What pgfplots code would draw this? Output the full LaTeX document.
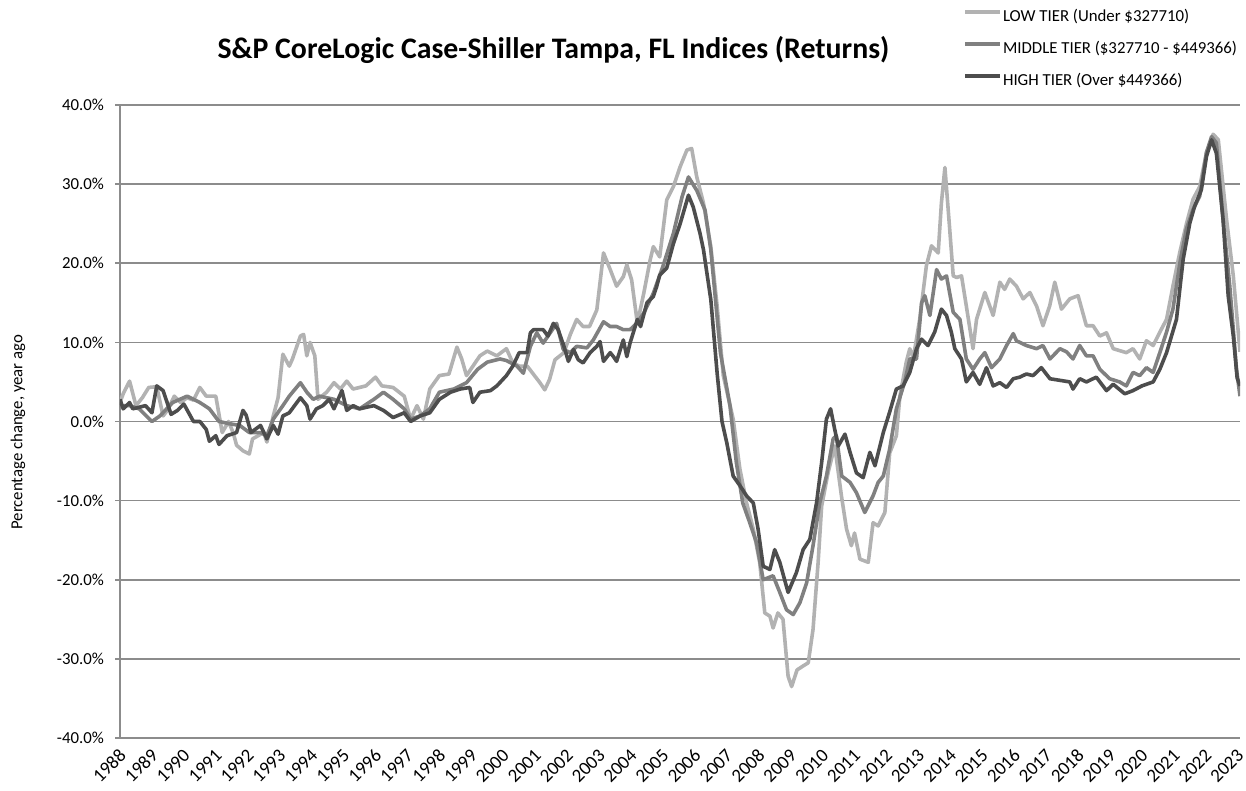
\documentclass[border=0pt]{standalone}
\usepackage{pgfplots}
\pgfplotsset{compat=1.18}
\usepackage{fontspec}
\setmainfont{Carlito}
\definecolor{lowc}{RGB}{178,178,178}
\definecolor{midc}{RGB}{128,128,128}
\definecolor{highc}{RGB}{77,77,77}
\definecolor{gridc}{RGB}{140,140,140}
\begin{document}
\begin{tikzpicture}
\begin{axis}[
  name=ax,
  scale only axis,
  width=560pt, height=316.5pt,
  xmin=1988, xmax=2023.07,
  ymin=-40, ymax=40,
  axis x line=bottom, axis y line=left,
  axis line style={-, draw=gridc, line width=0.8pt},
  ymajorgrids, grid style={draw=gridc, line width=0.8pt},
  ytick={-40,-30,...,40},
  yticklabels={-40.0\%,-30.0\%,-20.0\%,-10.0\%,0.0\%,10.0\%,20.0\%,30.0\%,40.0\%},
  xtick={1988,1989,...,2023},
  xticklabels={1988,1989,1990,1991,1992,1993,1994,1995,1996,1997,1998,1999,2000,2001,2002,2003,2004,2005,2006,2007,2008,2009,2010,2011,2012,2013,2014,2015,2016,2017,2018,2019,2020,2021,2022,2023},
  tick align=outside,
  ytick style={draw=gridc, line width=0.8pt},
  xtick style={draw=none},
  major tick length=2.5pt,
  yticklabel style={xshift=-2pt, font=\fontsize{8.4}{10}\selectfont},
  xticklabel style={xshift=1.5pt, yshift=-4.5pt, rotate=45, anchor=east, inner sep=0pt, font=\fontsize{9.4}{11}\selectfont},
  ylabel={Percentage change, year ago},
  ylabel style={at={(axis description cs:-0.0911,0.483)}, anchor=center, font=\fontsize{8.4}{10}\selectfont},
  title={\bfseries S\&P CoreLogic Case-Shiller Tampa, FL Indices (Returns)},
  title style={at={(axis description cs:0.387,1)}, anchor=center, yshift=21.5pt, font=\fontsize{14.9}{17}\selectfont},
  legend style={draw=none, fill=none, at={(axis description cs:0.7527,1)}, anchor=north west, yshift=47.75pt,
    font=\fontsize{8.4}{10}\selectfont, row sep=8.5pt, inner xsep=0pt, inner ysep=0pt,
    nodes={text height=6pt, text depth=1.5pt, inner ysep=0pt, inner xsep=0.5pt}},
  legend cell align=left,
  legend image code/.code={\draw[#1] (0pt,2.7pt) -- (17.5pt,2.7pt);},
  every axis plot/.append style={line width=1.8pt, line join=round},
]
\addplot[lowc] coordinates {
(1988.0,2.4)(1988.1,3.5)(1988.3,5.1)(1988.5,2.0)(1988.7,3.0)(1988.9,4.3)(1989.15,4.4)(1989.35,0.7)(1989.5,1.5)(1989.7,3.2)(1989.9,2.4)
(1990.1,3.0)(1990.3,2.7)(1990.5,4.3)(1990.7,3.2)(1990.85,3.2)(1991.0,3.2)(1991.2,-1.4)(1991.4,0.0)(1991.55,-1.5)(1991.65,-3.0)(1991.85,-3.7)
(1992.05,-4.1)(1992.15,-2.2)(1992.5,-1.4)(1992.6,-2.6)(1992.8,0.7)(1992.95,3.0)(1993.1,8.5)(1993.3,7.0)(1993.4,7.9)(1993.65,10.8)(1993.75,11.0)
(1993.85,8.3)(1993.95,10.0)(1994.1,8.3)(1994.2,2.8)(1994.47,3.7)(1994.7,4.9)(1994.9,4.1)(1995.1,5.1)(1995.3,4.1)(1995.7,4.5)(1996.0,5.6)
(1996.2,4.5)(1996.55,4.3)(1996.9,3.2)(1997.1,0.3)(1997.3,2.0)(1997.5,0.3)(1997.7,4.1)(1998.0,5.8)(1998.3,6.0)(1998.55,9.4)(1998.7,7.9)
(1998.85,5.8)(1999.27,8.3)(1999.5,8.9)(1999.8,8.3)(2000.1,9.2)(2000.3,7.4)(2000.5,7.0)(2000.75,7.0)(2001.15,4.9)(2001.3,4.0)(2001.45,5.3)
(2001.62,7.8)(2001.9,8.7)(2002.1,11.0)(2002.3,12.9)(2002.5,12.0)(2002.7,12.0)(2002.93,14.1)(2003.14,21.3)(2003.35,19.2)(2003.55,17.1)
(2003.76,18.3)(2003.87,19.8)(2004.02,17.9)(2004.2,12.4)(2004.4,16.2)(2004.6,20.4)(2004.7,22.1)(2004.9,20.8)(2005.12,28.0)(2005.33,29.7)
(2005.54,32.2)(2005.75,34.3)(2005.9,34.5)(2006.06,30.9)(2006.27,27.6)(2006.5,22.1)(2006.7,14.5)(2006.89,5.8)(2007.2,0.3)(2007.41,-6.0)
(2007.62,-10.3)(2007.83,-13.6)(2008.03,-17.8)(2008.19,-24.2)(2008.35,-24.6)(2008.45,-26.1)(2008.6,-24.2)(2008.76,-25.0)(2008.92,-32.2)
(2009.03,-33.5)(2009.2,-31.4)(2009.39,-30.9)(2009.55,-30.5)(2009.7,-26.3)(2009.86,-17.8)(2009.97,-10.7)(2010.17,-6.5)(2010.38,-3.1)
(2010.59,-9.4)(2010.75,-13.6)(2010.9,-15.7)(2011.0,-14.1)(2011.17,-17.4)(2011.43,-17.8)(2011.58,-12.8)(2011.74,-13.2)(2011.95,-11.5)
(2012.1,-4.0)(2012.31,-1.8)(2012.42,3.2)(2012.62,7.5)(2012.73,9.2)(2012.84,8.0)(2013.04,12.9)(2013.25,19.7)(2013.41,22.2)(2013.62,21.3)
(2013.72,27.6)(2013.83,32.1)(2013.98,24.3)(2014.09,18.4)(2014.2,18.2)(2014.35,18.4)(2014.5,14.6)(2014.71,9.2)(2014.82,12.9)(2015.08,16.3)
(2015.34,13.4)(2015.55,17.6)(2015.7,16.7)(2015.86,18.0)(2016.07,17.1)(2016.28,15.5)(2016.49,16.3)(2016.7,14.6)(2016.9,12.1)(2017.11,14.6)
(2017.27,17.6)(2017.48,14.2)(2017.74,15.5)(2018.0,15.9)(2018.26,12.1)(2018.47,12.1)(2018.68,10.8)(2018.89,11.2)(2019.1,9.2)(2019.51,8.7)
(2019.72,9.2)(2019.93,7.9)(2020.14,10.2)(2020.35,9.6)(2020.56,11.3)(2020.77,12.9)(2020.97,17.1)(2021.18,21.3)(2021.4,25.1)(2021.6,28.1)
(2021.81,29.7)(2022.02,34.0)(2022.23,36.3)(2022.39,35.6)(2022.65,25.5)(2022.86,18.4)(2023.07,8.8)
};
\addlegendentry{LOW TIER (Under \$327710)}
\addplot[midc] coordinates {
(1988.0,2.0)(1988.3,2.0)(1988.6,1.6)(1989.0,0.0)(1989.25,0.7)(1989.65,2.4)(1990.1,3.2)(1990.5,2.4)(1990.8,1.6)(1991.1,0.0)(1991.45,-0.3)
(1991.75,-0.5)(1992.05,-1.4)(1992.4,-1.4)(1992.6,-1.8)(1992.8,0.3)(1993.1,2.0)(1993.3,3.2)(1993.65,4.9)(1993.85,3.7)(1994.05,2.8)(1994.25,3.2)
(1994.7,2.8)(1995.1,2.0)(1995.5,1.6)(1995.95,2.8)(1996.25,3.7)(1996.55,2.8)(1996.9,1.6)(1997.1,0.3)(1997.4,0.7)(1997.7,1.6)(1998.0,3.7)
(1998.45,4.1)(1998.85,4.9)(1999.2,6.6)(1999.5,7.5)(1999.9,7.9)(2000.1,7.7)(2000.43,7.0)(2000.63,6.1)(2000.85,9.5)(2001.05,11.2)(2001.25,9.9)
(2001.47,11.2)(2001.67,12.4)(2001.88,9.1)(2002.1,8.7)(2002.3,9.5)(2002.62,9.3)(2002.82,10.3)(2003.14,12.6)(2003.35,12.0)(2003.55,12.0)
(2003.76,11.6)(2003.97,11.6)(2004.18,12.4)(2004.4,13.7)(2004.7,16.2)(2005.0,19.6)(2005.33,23.8)(2005.6,28.4)(2005.8,30.9)(2006.06,29.2)
(2006.32,26.7)(2006.5,21.7)(2006.8,8.7)(2007.1,2.0)(2007.3,-5.2)(2007.5,-10.3)(2007.72,-12.8)(2007.93,-15.3)(2008.14,-20.0)(2008.45,-19.5)
(2008.66,-21.6)(2008.87,-23.8)(2009.08,-24.4)(2009.29,-22.9)(2009.5,-20.4)(2009.7,-15.7)(2009.91,-10.3)(2010.12,-6.9)(2010.33,-2.2)
(2010.43,-1.8)(2010.6,-6.9)(2010.86,-7.7)(2011.06,-9.0)(2011.32,-11.5)(2011.58,-9.4)(2011.74,-7.7)(2011.9,-6.9)(2012.1,-3.5)(2012.31,1.6)
(2012.57,5.0)(2012.73,7.9)(2012.94,7.9)(2013.1,15.0)(2013.2,15.9)(2013.36,13.4)(2013.57,19.2)(2013.72,18.0)(2013.88,18.4)(2014.09,13.8)
(2014.3,12.9)(2014.5,7.9)(2014.71,6.6)(2014.92,7.9)(2015.08,8.7)(2015.29,6.8)(2015.55,7.9)(2015.76,9.6)(2015.97,11.1)(2016.07,10.2)
(2016.38,9.6)(2016.7,9.2)(2016.9,9.6)(2017.12,7.9)(2017.43,9.2)(2017.64,8.8)(2017.84,7.9)(2018.05,9.6)(2018.26,8.3)(2018.47,8.3)
(2018.68,6.6)(2018.99,5.4)(2019.3,5.0)(2019.51,4.5)(2019.72,6.2)(2019.93,5.8)(2020.14,6.8)(2020.35,6.2)(2020.56,8.7)(2020.77,11.3)
(2020.97,14.2)(2021.19,20.1)(2021.39,24.3)(2021.6,26.8)(2021.81,28.5)(2022.02,34.0)(2022.18,36.0)(2022.33,35.2)(2022.54,25.5)(2022.75,17.1)
(2022.96,6.6)(2023.07,3.2)
};
\addlegendentry{MIDDLE TIER (\$327710 - \$449366)}
\addplot[highc] coordinates {
(1988.0,2.8)(1988.1,1.6)(1988.3,2.4)(1988.4,1.6)(1988.8,2.0)(1989.0,1.1)(1989.15,4.5)(1989.35,3.9)(1989.6,0.9)(1989.8,1.4)(1990.0,2.2)
(1990.3,0.0)(1990.5,0.0)(1990.7,-1.0)(1990.8,-2.5)(1991.0,-1.8)(1991.1,-2.9)(1991.35,-1.8)(1991.65,-1.4)(1991.85,1.4)(1991.95,0.8)(1992.1,-1.4)
(1992.4,-0.5)(1992.6,-2.2)(1992.8,-0.5)(1992.95,-1.6)(1993.1,0.7)(1993.3,1.1)(1993.65,3.0)(1993.85,2.0)(1993.95,0.3)(1994.15,1.6)(1994.35,2.0)
(1994.55,2.8)(1994.7,1.6)(1994.95,3.9)(1995.1,1.4)(1995.3,2.0)(1995.5,1.6)(1995.95,2.0)(1996.25,1.4)(1996.55,0.5)(1996.9,1.1)(1997.1,0.0)
(1997.4,0.7)(1997.7,1.1)(1998.0,2.8)(1998.35,3.7)(1998.65,4.1)(1998.95,4.3)(1999.05,2.4)(1999.27,3.7)(1999.6,3.9)(1999.8,4.5)(2000.1,5.8)
(2000.3,7.0)(2000.5,8.7)(2000.75,8.7)(2000.85,11.2)(2000.95,11.6)(2001.25,11.6)(2001.4,10.8)(2001.57,12.4)(2001.72,11.6)(2001.9,9.5)
(2002.04,7.6)(2002.2,9.1)(2002.35,7.8)(2002.5,7.4)(2002.72,8.7)(2002.93,9.5)(2003.03,10.1)(2003.14,7.6)(2003.35,8.7)(2003.45,8.2)(2003.55,7.6)
(2003.76,10.3)(2003.87,8.2)(2003.97,9.9)(2004.2,12.9)(2004.3,12.0)(2004.5,15.0)(2004.7,15.8)(2004.8,17.0)(2004.9,18.5)(2005.12,19.4)
(2005.33,22.5)(2005.54,25.0)(2005.8,28.6)(2005.95,27.1)(2006.16,23.8)(2006.27,21.7)(2006.5,15.4)(2006.7,6.0)(2006.85,0.0)(2007.0,-2.7)
(2007.2,-6.9)(2007.41,-8.1)(2007.62,-9.4)(2007.83,-10.3)(2007.98,-13.6)(2008.14,-18.3)(2008.35,-18.7)(2008.5,-16.2)(2008.66,-17.8)
(2008.92,-21.6)(2009.18,-19.1)(2009.39,-16.2)(2009.6,-14.9)(2009.81,-10.3)(2009.97,-5.2)(2010.12,0.3)(2010.25,1.6)(2010.38,-1.0)
(2010.49,-3.1)(2010.7,-1.6)(2010.86,-3.9)(2011.06,-6.5)(2011.27,-7.1)(2011.48,-3.9)(2011.64,-5.6)(2011.9,-1.4)(2012.1,1.2)(2012.31,4.1)
(2012.52,4.5)(2012.73,6.2)(2012.94,9.2)(2013.1,10.4)(2013.3,9.6)(2013.51,11.3)(2013.72,14.2)(2013.88,13.4)(2014.03,11.3)(2014.14,9.2)
(2014.35,7.9)(2014.5,5.0)(2014.71,6.2)(2014.92,4.7)(2015.13,6.8)(2015.34,4.5)(2015.55,4.9)(2015.76,4.3)(2015.97,5.4)(2016.17,5.6)
(2016.38,6.0)(2016.59,5.8)(2016.85,6.8)(2017.12,5.4)(2017.43,5.2)(2017.74,5.0)(2017.84,4.1)(2018.05,5.4)(2018.26,5.0)(2018.57,5.6)
(2018.89,3.9)(2019.1,4.7)(2019.46,3.5)(2019.72,3.9)(2020.0,4.5)(2020.35,5.0)(2020.56,6.6)(2020.77,8.7)(2021.08,12.9)(2021.29,20.5)
(2021.5,25.1)(2021.65,27.2)(2021.86,29.3)(2022.02,33.5)(2022.18,35.6)(2022.33,33.9)(2022.54,25.5)(2022.7,15.9)(2022.86,10.8)(2022.98,5.5)
(2023.07,4.5)
};
\addlegendentry{HIGH TIER (Over \$449366)}
\end{axis}
\pgfresetboundingbox
\path[use as bounding box] ([shift={(-60pt,-26.5pt)}]ax.south west) rectangle ([shift={(3pt,52.5pt)}]ax.north east);
\end{tikzpicture}
\end{document}
